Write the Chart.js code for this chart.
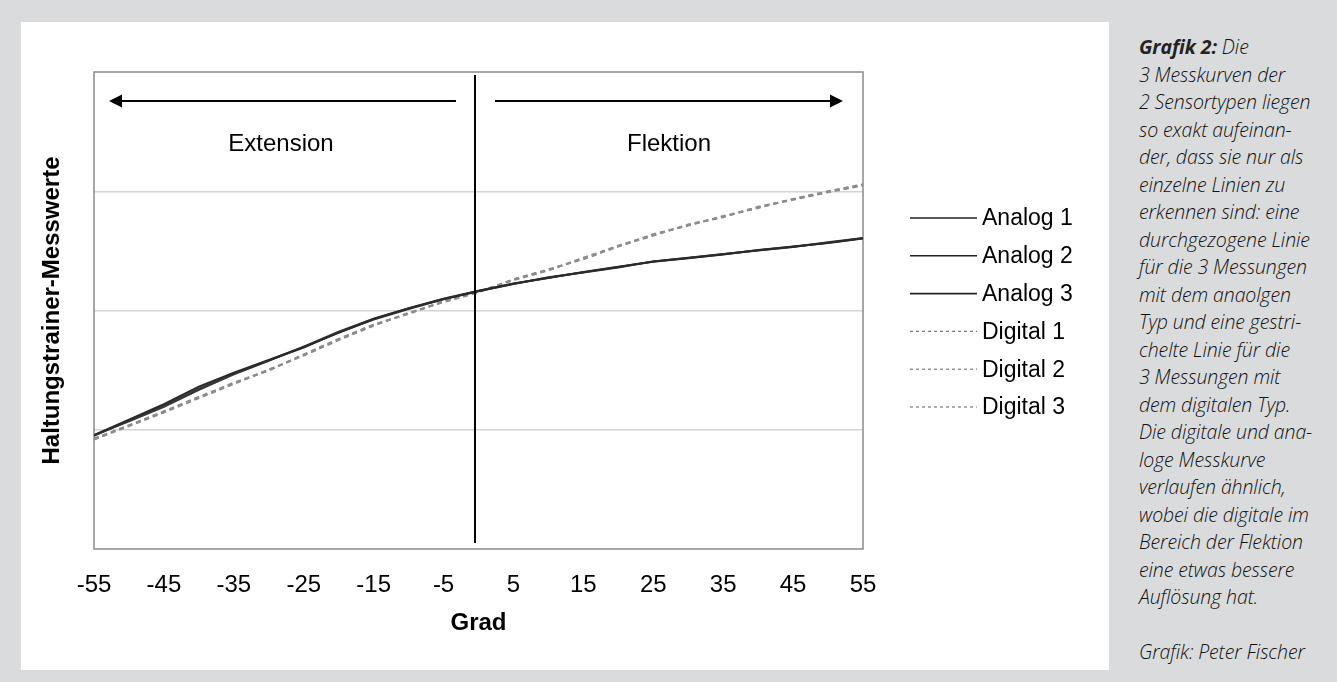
<!DOCTYPE html>
<html><head><meta charset="utf-8">
<script src="https://cdn.jsdelivr.net/npm/chart.js@4.4.0/dist/chart.umd.min.js"></script>
<style>
html,body{margin:0;padding:0;background:#dadbdc;width:1337px;height:682px;overflow:hidden}
#panel{position:absolute;left:21px;top:22px;width:1088px;height:648px;background:#fff}
#c{display:block}
#cap{position:absolute;left:1139px;top:33px;width:198px;font-family:"Open Sans","Noto Sans",sans-serif;font-style:italic;font-weight:300;font-size:19.5px;letter-spacing:-0.1px;line-height:27.5px;color:#111;white-space:nowrap}
#cap b{font-weight:700;color:#222}
</style></head>
<body>
<div id="panel"><canvas id="c" width="1088" height="648"></canvas></div>
<div id="cap"><b>Grafik 2:</b> Die<br>3 Messkurven der<br>2 Sensortypen liegen<br>so exakt aufeinan-<br>der, dass sie nur als<br>einzelne Linien zu<br>erkennen sind: eine<br>durchgezogene Linie<br>für die 3 Messungen<br>mit dem anaolgen<br>Typ und eine gestri-<br>chelte Linie für die<br>3 Messungen mit<br>dem digitalen Typ.<br>Die digitale und ana-<br>loge Messkurve<br>verlaufen ähnlich,<br>wobei die digitale im<br>Bereich der Flektion<br>eine etwas bessere<br>Auflösung hat.<br><br>Grafik: Peter Fischer</div>
<script>
// ---- data ----
const grad = [-55,-50,-45,-40,-35,-30,-25,-20,-15,-10,-5,0,5,10,15,20,25,30,35,40,45,50,55];
const analog1 = [0.956,1.085,1.214,1.362,1.478,1.585,1.694,1.812,1.929,2.018,2.096,2.164,2.225,2.275,2.320,2.365,2.410,2.440,2.471,2.505,2.535,2.569,2.605];
const analog2 = [0.950,1.078,1.200,1.345,1.470,1.582,1.690,1.818,1.925,2.012,2.094,2.162,2.223,2.278,2.318,2.360,2.412,2.442,2.474,2.503,2.532,2.572,2.607];
const analog3 = [0.953,1.070,1.192,1.335,1.465,1.578,1.697,1.822,1.932,2.020,2.098,2.166,2.227,2.273,2.324,2.368,2.408,2.438,2.469,2.507,2.537,2.567,2.603];
const digital1 = [0.922,1.034,1.151,1.270,1.390,1.500,1.627,1.758,1.878,1.976,2.074,2.155,2.258,2.340,2.437,2.544,2.633,2.717,2.787,2.865,2.932,2.996,3.052];
const digital2 = [0.918,1.030,1.145,1.265,1.384,1.505,1.622,1.752,1.872,1.980,2.070,2.152,2.262,2.345,2.430,2.536,2.640,2.712,2.792,2.860,2.936,3.000,3.058];
const digital3 = [0.926,1.038,1.155,1.275,1.395,1.496,1.632,1.762,1.882,1.972,2.078,2.158,2.254,2.336,2.442,2.540,2.628,2.722,2.782,2.870,2.928,2.992,3.048];
const seriesNames = ['Analog 1','Analog 2','Analog 3','Digital 1','Digital 2','Digital 3'];
const xTickValues = [-55,-45,-35,-25,-15,-5,5,15,25,35,45,55];
const yGridValues = [0,1,2,3,4];
const xTitle = 'Grad';
const yTitle = 'Haltungstrainer-Messwerte';
const zoneLabels = ['Extension','Flektion'];

const FONT = '"Liberation Sans", Arial, sans-serif';
const series = [analog1,analog2,analog3,digital1,digital2,digital3];
const styles = [
  {color:'#2a2a2a', dash:[], width:2},
  {color:'#3a3a3a', dash:[], width:2},
  {color:'#333333', dash:[], width:2},
  {color:'#8c8c8c', dash:[5,4], width:2},
  {color:'#8c8c8c', dash:[5,4], width:2},
  {color:'#8c8c8c', dash:[5,4], width:2}
];
const datasets = series.map((s,i)=>({
  label: seriesNames[i],
  data: grad.map((g,j)=>({x:g,y:s[j]})),
  borderColor: styles[i].color,
  borderDash: styles[i].dash,
  borderWidth: styles[i].width,
  pointRadius: 0,
  fill:false,
  tension:0
}));

// plot frame
const framePlugin = {
  id:'frame',
  beforeDatasetsDraw(chart){
    const {ctx, chartArea:a} = chart;
    ctx.save();
    ctx.strokeStyle='#8a8a8a'; ctx.lineWidth=1.5;
    ctx.strokeRect(a.left, a.top, a.right-a.left, a.bottom-a.top);
    ctx.restore();
  }
};

// divider, arrows and zone labels (data coordinates)
const annotationPlugin = {
  id:'zones',
  afterDatasetsDraw(chart, args, o){
    const {ctx, scales:{x,y}} = chart;
    ctx.save();
    ctx.strokeStyle='#000'; ctx.lineWidth=2;
    ctx.beginPath();
    ctx.moveTo(x.getPixelForValue(o.divider.x), y.getPixelForValue(o.divider.y0));
    ctx.lineTo(x.getPixelForValue(o.divider.x), y.getPixelForValue(o.divider.y1));
    ctx.stroke();
    o.arrows.forEach(a=>{
      const yy = y.getPixelForValue(a.y);
      const x0 = x.getPixelForValue(a.from), x1 = x.getPixelForValue(a.to);
      const dir = Math.sign(x1-x0);
      ctx.strokeStyle='#000'; ctx.lineWidth=2;
      ctx.beginPath(); ctx.moveTo(x0,yy); ctx.lineTo(x1-dir*10,yy); ctx.stroke();
      ctx.fillStyle='#000';
      ctx.beginPath(); ctx.moveTo(x1,yy); ctx.lineTo(x1-dir*13,yy-6.5); ctx.lineTo(x1-dir*13,yy+6.5); ctx.closePath(); ctx.fill();
    });
    ctx.fillStyle='#000'; ctx.font='24px '+FONT; ctx.textAlign='center'; ctx.textBaseline='middle';
    o.labels.forEach(l=>{ ctx.fillText(l.text, x.getPixelForValue(l.x), y.getPixelForValue(l.y)); });
    ctx.restore();
  }
};

// legend
const sideLegend = {
  id:'sideLegend',
  afterDraw(chart, args, o){
    const {ctx} = chart;
    ctx.save();
    ctx.font = o.fontSize+'px '+FONT; ctx.textBaseline='middle'; ctx.textAlign='left';
    chart.data.datasets.forEach((d,i)=>{
      const yy = o.y + i*o.rowHeight;
      const dig = d.borderDash && d.borderDash.length;
      ctx.strokeStyle = dig ? '#7a7a7a' : '#222';
      ctx.lineWidth = dig ? 1.2 : 1.6;
      ctx.setLineDash(dig ? [3,3] : []);
      ctx.beginPath(); ctx.moveTo(o.x, yy); ctx.lineTo(o.x+o.lineLength, yy); ctx.stroke();
      ctx.setLineDash([]);
      ctx.fillStyle='#000';
      ctx.fillText(d.label, o.x+o.lineLength+o.gap, yy+1);
    });
    ctx.restore();
  }
};

new Chart(document.getElementById('c'), {
  type:'line',
  data:{datasets},
  plugins:[framePlugin, annotationPlugin, sideLegend],
  options:{
    responsive:false, animation:false, events:[],
    layout:{padding:{top:50,right:246,left:0,bottom:0}},
    plugins:{
      legend:{display:false}, tooltip:{enabled:false},
      zones:{
        divider:{x:-0.5, y0:0.05, y1:3.975},
        arrows:[{y:3.757, from:-3.22, to:-52.85},{y:3.757, from:2.36, to:52.14}],
        labels:[{text:zoneLabels[0], x:-28.25, y:3.396},{text:zoneLabels[1], x:27.25, y:3.396}]
      },
      sideLegend:{x:889, y:196, rowHeight:37.8, lineLength:67, gap:5, fontSize:23}
    },
    scales:{
      x:{
        type:'linear', min:-55, max:55,
        afterBuildTicks(s){ s.ticks = xTickValues.map(v=>({value:v})); },
        afterFit(s){ s.height = 121; },
        grid:{display:false, drawTicks:false},
        border:{display:false},
        ticks:{color:'#000', font:{family:FONT,size:24}, padding:21.6, maxRotation:0, autoSkip:false,
               callback:v=>String(v)},
        title:{display:true, text:xTitle, color:'#000', font:{family:FONT,size:24,weight:'bold'}, padding:{top:0,bottom:32.6}}
      },
      y:{
        type:'linear', min:0, max:4,
        afterBuildTicks(s){ s.ticks = yGridValues.map(v=>({value:v})); },
        afterFit(s){ s.width = 73; },
        grid:{drawTicks:false, color:c=>(c.tick && (c.tick.value===0||c.tick.value===4))?'rgba(0,0,0,0)':'#d4d4d4', lineWidth:1.5},
        border:{display:false},
        ticks:{display:false},
        title:{display:true, text:yTitle, color:'#000', font:{family:FONT,size:24,weight:'bold'}, padding:{top:16.6,bottom:0}}
      }
    }
  }
});
</script>
</body></html>
